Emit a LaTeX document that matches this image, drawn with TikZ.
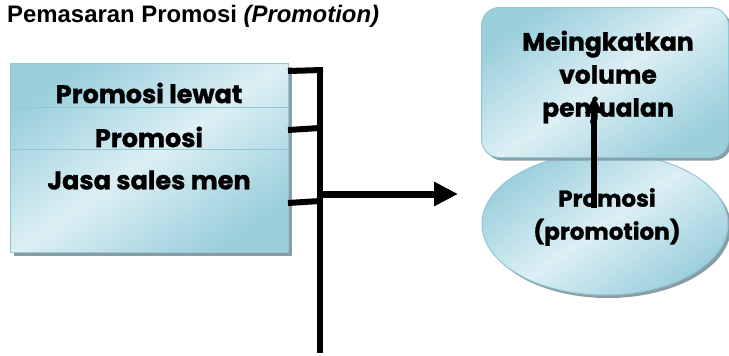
\documentclass[tikz,border=0pt]{standalone}
\usepackage{fontspec}
\setmainfont{Liberation Sans}
\newfontfamily\boxfont{Poppins}[BoldFeatures={FakeBold=1.2}]
\usetikzlibrary{arrows.meta,shadows,shapes.geometric}

\definecolor{aquaDark}{HTML}{9BCFDC}
\definecolor{aquaLight}{HTML}{DCEFF4}
\definecolor{aquaEdge}{HTML}{8EC7D6}
\definecolor{shadowGray}{HTML}{8A9DA5}

\tikzset{
  aqua/.style={draw=aquaEdge, line width=1pt,
    top color=aquaDark, bottom color=aquaDark, middle color=aquaLight,
    shading angle=35,
    drop shadow={shadow xshift=3pt, shadow yshift=-3pt, fill=shadowGray, opacity=1}},
  boxtext/.style={font=\boxfont\bfseries\fontsize{25.5}{30}\selectfont, inner sep=0pt},
  goaltext/.style={font=\boxfont\bfseries\fontsize{25}{33}\selectfont, align=center, inner sep=0pt},
  promotext/.style={font=\boxfont\bfseries\fontsize{23}{33}\selectfont, align=center, inner sep=0pt},
  bar/.style={line width=6pt, black},
  bigarrow/.style={line width=7pt, black, -{Triangle[length=24pt,width=23pt]}},
  uparrow/.style={line width=6pt, black, -{Triangle[length=16pt,width=17pt]}}
}

\begin{document}
\begin{tikzpicture}[x=1pt,y=-1pt]
\useasboundingbox (0,0) rectangle (729,356);

% title
\node[anchor=base west, inner sep=0pt, font=\bfseries\fontsize{23.9}{28}\selectfont]
  (title) at (7,22.5) {Pemasaran Promosi \textit{(Promotion)}};

% stacked promotion channels
\node[aqua, rectangle, minimum width=278pt, minimum height=189pt, anchor=north west]
  (channels) at (10,63) {};
\draw[aquaEdge, line width=1pt] (channels.west |- 0,107) -- (channels.east |- 0,107);
\draw[aquaEdge, line width=1pt] (channels.west |- 0,149) -- (channels.east |- 0,149);
\node[boxtext] (c1) at (149,93) {Promosi lewat};
\node[boxtext] (c2) at (149,137) {Promosi};
\node[boxtext] (c3) at (149,180) {Jasa sales men};

% collecting bar
\coordinate (bartop) at (320,68);
\coordinate (barbot) at (320,353);
\coordinate (s1) at (288,71);
\coordinate (s2) at (288,130);
\coordinate (s3) at (288,203);
\coordinate (j1) at (323,70);
\coordinate (j2) at (320,128);
\coordinate (j3) at (320,201);
\coordinate (out) at (320,194);
\coordinate (tip) at (458,194);
\draw[bar] (bartop) -- (barbot);
\draw[bar] (s1) -- (j1);
\draw[bar] (s2) -- (j2);
\draw[bar] (s3) -- (j3);

% promotion and its goal
\node[aqua, ellipse, minimum width=246pt, minimum height=142pt] (promo) at (605,224) {};
\node[aqua, rectangle, rounded corners=18pt, minimum width=247pt, minimum height=150pt,
  anchor=north west] (goal) at (481,7) {};
\node[goaltext] (goaltxt) at (608,77) {Meingkatkan\\volume\\penjualan};
\node[promotext] (promotxt) at (607,217) {Promosi\\(promotion)};

\draw[bigarrow] (out) -- (tip);
\coordinate (upfrom) at (594,208);
\coordinate (upto) at (594,97);
\draw[uparrow] (upfrom) -- (upto);
\end{tikzpicture}
\end{document}
